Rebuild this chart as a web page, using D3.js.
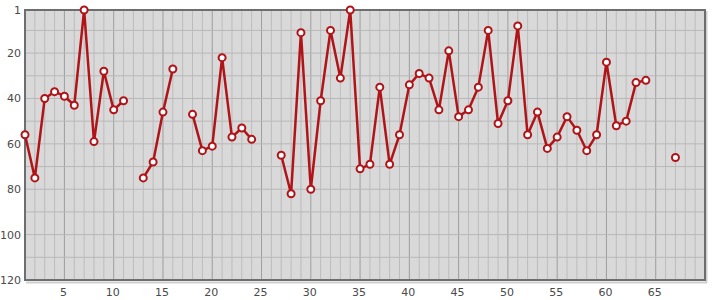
<!DOCTYPE html>
<html>
<head>
<meta charset="utf-8">
<script src="https://cdn.jsdelivr.net/npm/d3@7"></script>
<style>
body { margin: 0; background: #fff; }
text { font-family: "DejaVu Sans", Verdana, sans-serif; font-size: 11px; fill: #4a4a4a; }
</style>
</head>
<body>
<div id="view"></div>
<script>
// positions 1..67, null = gap in the line
var xs = d3.range(1, 68);
var ranks = [56, 75, 40, 37, 39, 43, 1, 59, 28, 45,
	41, null, 75, 68, 46, 27, null, 47, 63, 61,
	22, 57, 53, 58, null, null, 65, 82, 11, 80,
	41, 10, 31, 1, 71, 69, 35, 69, 56, 34,
	29, 31, 45, 19, 48, 45, 35, 10, 51, 41,
	8, 56, 46, 62, 57, 48, 54, 63, 56, 24,
	52, 50, 33, 32, null, null, 66];
var xTicks = [5, 10, 15, 20, 25, 30, 35, 40, 45, 50, 55, 60, 65];
var yTicks = [1, 20, 40, 60, 80, 100, 120];

var points = xs.map(function(d, i){ return {x: d, y: ranks[i]}; });

var svg = d3.select("#view").append("svg")
	.attr("width", 715)
	.attr("height", 300);

var x = d3.scaleLinear().domain([1, 70]).range([25, 705]);
var y = d3.scaleLinear().domain([1, 120]).range([10, 280]);

// background
svg.append("rect")
	.attr("x", 25).attr("y", 10)
	.attr("width", 680).attr("height", 270)
	.style("fill", "#d9d9d9");

// vertical grid, every unit, darker every 5
svg.selectAll("line.vg")
	.data(d3.range(2, 70))
   .enter().append("line")
	.attr("class", "vg")
	.attr("x1", function(d){ return x(d); })
	.attr("x2", function(d){ return x(d); })
	.attr("y1", 10).attr("y2", 280)
	.style("stroke", function(d){ return d % 5 == 0 ? "#9e9e9e" : "#bcbcbc"; })
	.style("stroke-width", 1);

// horizontal grid every 10
svg.selectAll("line.hg")
	.data(d3.range(10, 120, 10))
   .enter().append("line")
	.attr("class", "hg")
	.attr("x1", 25).attr("x2", 705)
	.attr("y1", function(d){ return y(d); })
	.attr("y2", function(d){ return y(d); })
	.style("stroke", "#b8b8b8")
	.style("stroke-width", 1);

// frame with shadow on right / bottom
svg.append("line").attr("x1", 706.5).attr("x2", 706.5).attr("y1", 11).attr("y2", 283)
	.style("stroke", "#cfcfcf").style("stroke-width", 2);
svg.append("line").attr("x1", 26).attr("x2", 707).attr("y1", 282.5).attr("y2", 282.5)
	.style("stroke", "#cfcfcf").style("stroke-width", 2);
svg.append("rect")
	.attr("x", 25).attr("y", 10)
	.attr("width", 680).attr("height", 270)
	.style("fill", "none")
	.style("stroke", "#6e6e6e")
	.style("stroke-width", 2);

// axes labels
svg.selectAll("text.yl")
	.data(yTicks)
   .enter().append("text")
	.attr("class", "yl")
	.attr("x", 21)
	.attr("y", function(d){ return y(d) + 4; })
	.attr("text-anchor", "end")
	.text(function(d){ return d; });

svg.selectAll("text.xl")
	.data(xTicks)
   .enter().append("text")
	.attr("class", "xl")
	.attr("x", function(d){ return x(d) - 1; })
	.attr("y", 296)
	.attr("text-anchor", "middle")
	.text(function(d){ return d; });

// series line
var line = d3.line()
	.defined(function(d){ return d.y != null; })
	.x(function(d){ return x(d.x); })
	.y(function(d){ return y(d.y); });

svg.append("path")
	.datum(points)
	.attr("d", line)
	.style("fill", "none")
	.style("stroke", "#b01418")
	.style("stroke-width", 2.5)
	.style("stroke-linejoin", "round");

svg.selectAll("circle")
	.data(points.filter(function(d){ return d.y != null; }))
   .enter().append("circle")
	.attr("cx", function(d){ return x(d.x); })
	.attr("cy", function(d){ return y(d.y); })
	.attr("r", 3.5)
	.style("fill", "#fff")
	.style("stroke", "#b01418")
	.style("stroke-width", 2);
</script>
</body>
</html>
